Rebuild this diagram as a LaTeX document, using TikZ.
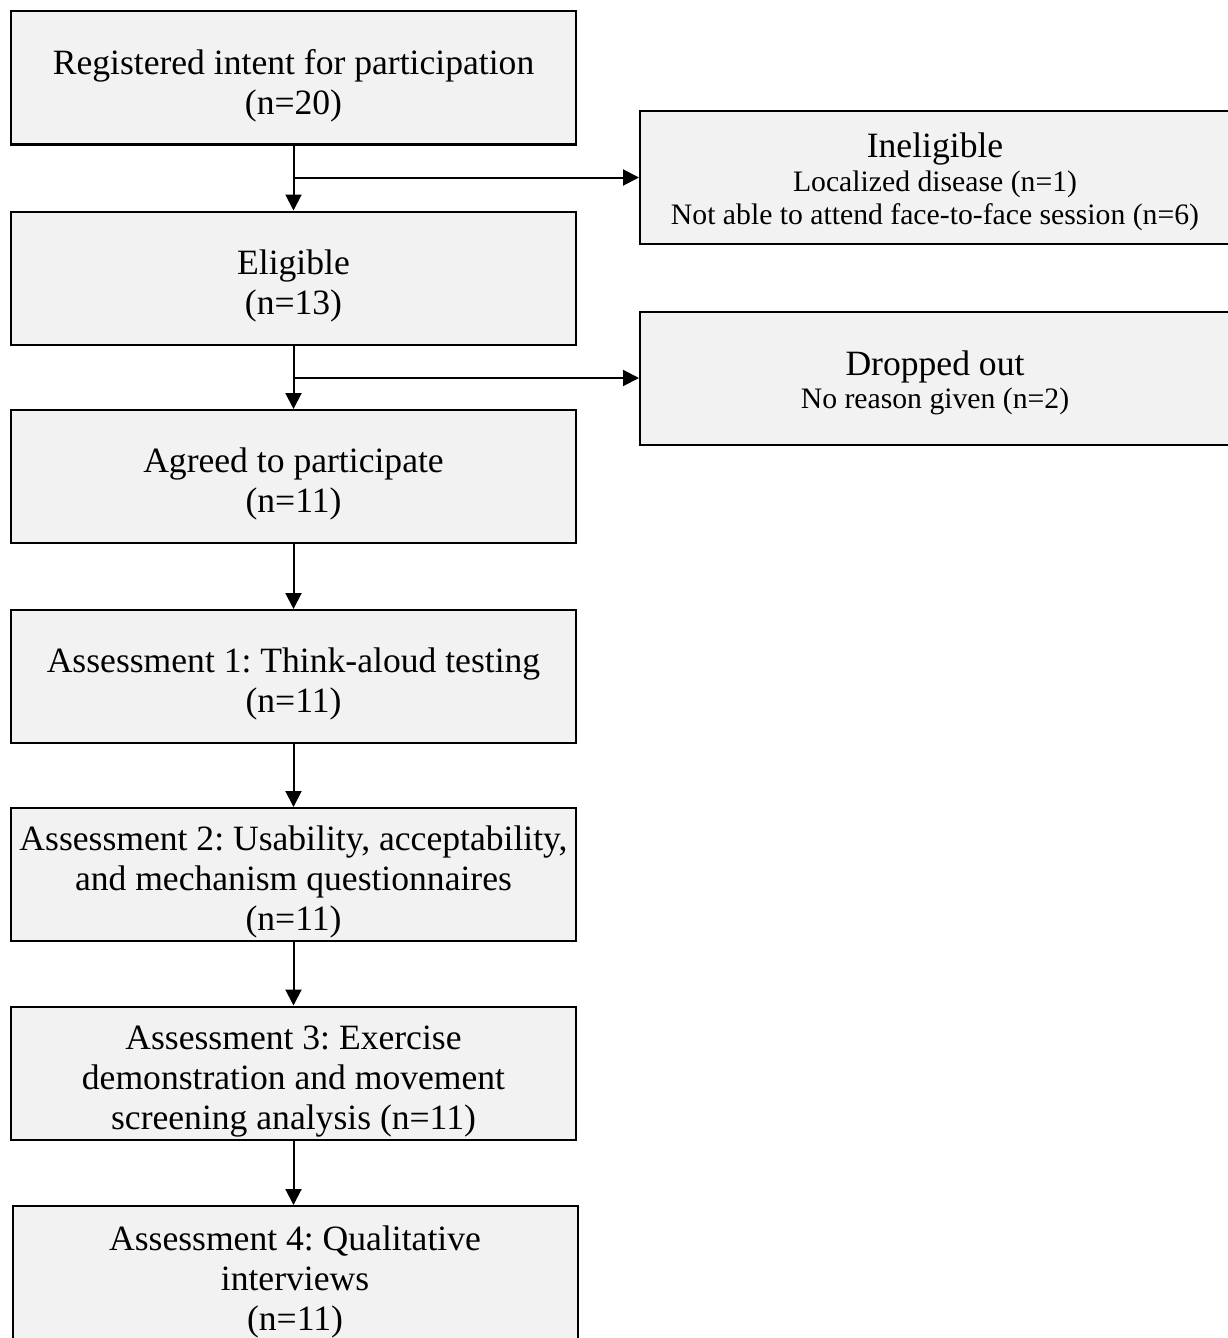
\documentclass[tikz,border=0pt]{standalone}
\usepackage{fontspec}
\setmainfont{Liberation Serif}
\usetikzlibrary{arrows.meta}
\definecolor{boxfill}{HTML}{F2F2F2}
\newcommand{\smalltxt}{\fontsize{14.85}{16.5}\selectfont}
\newcommand{\tp}{\rule{0pt}{20pt}}
\newcommand{\tps}{\rule{0pt}{17pt}}
\frenchspacing
\begin{document}
\begin{tikzpicture}[x=0.5pt,y=-0.5pt,
  box/.style={draw=black, line width=1pt, fill=boxfill, minimum width=282.5pt,
    minimum height=66.5pt, inner sep=0pt, align=center,
    font=\fontsize{17.8}{20}\selectfont\frenchspacing},
  sidebox/.style={box, minimum width=295pt},
  arr/.style={line width=1pt, -{Triangle[width=8pt,length=8pt]}}]
\useasboundingbox (0,0) rectangle (1227,1338);

\node[box] (b1) at (293.5,78) {\tp Registered intent for participation\\(n=20)};
\node[box] (b2) at (293.5,278) {\tp Eligible\\(n=13)};
\node[box] (b3) at (293.5,476.5) {\tp Agreed to participate\\(n=11)};
\node[box] (b4) at (293.5,676.5) {\tp Assessment 1: Think-aloud testing\\(n=11)};
\node[box] (b5) at (293.5,874.5) {\tp Assessment 2: Usability, acceptability,\\and mechanism questionnaires\\(n=11)};
\node[box] (b6) at (293.5,1073) {\tp Assessment 3: Exercise\\demonstration and movement\\screening analysis (n=11)};
\node[box, minimum height=68pt] (b7) at (295,1274) {\tp Assessment 4: Qualitative\\interviews\\(n=11)};

\node[sidebox] (ine) at (935,177.5) {\tps Ineligible\\[-3pt]\smalltxt Localized disease (n=1)\\[-3.5pt]\smalltxt Not able to attend face-to-face session (n=6)};
\node[sidebox] (drop) at (935,378) {\tps Dropped out\\[-3.5pt]\smalltxt No reason given (n=2)};

\draw[arr] (b1) -- (b2);
\draw[arr] (b2) -- (b3);
\draw[arr] (b3) -- (b4);
\draw[arr] (b4) -- (b5);
\draw[arr] (b5) -- (b6);
\draw[arr] (b6.south) -- (b6.south |- b7.north);
\draw[arr] (b1.south |- ine.west) -- (ine.west);
\draw[arr] (b2.south |- drop.west) -- (drop.west);
\end{tikzpicture}
\end{document}
